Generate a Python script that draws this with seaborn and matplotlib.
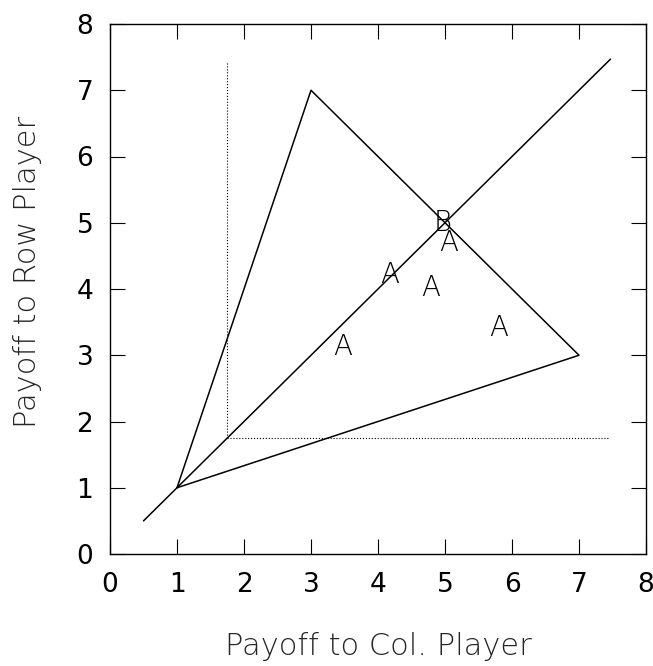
import pandas as pd
import matplotlib
matplotlib.use("Agg")
import matplotlib.pyplot as plt
import seaborn as sns

# feasible payoff triangle (col payoff, row payoff)
tri_x = [1, 3, 7, 1]
tri_y = [1, 7, 3, 1]

# 45 degree line
diag_x = [0.5, 7.47]
diag_y = [0.5, 7.47]

# minimax (dotted) lines
vert_x = [1.75, 1.75]
vert_y = [1.75, 7.43]
horiz_x = [1.75, 7.43]
horiz_y = [1.75, 1.75]

# outcomes labelled on the chart
a_x = [3.48, 4.18, 4.78, 5.06, 5.8]
a_y = [3.12, 4.21, 4.02, 4.69, 3.41]
b_x = [4.97]
b_y = [5.0]

sns.set_style("ticks")
plt.rcParams['font.family'] = ['DejaVu Sans']
plt.rcParams['text.color'] = 'black'
plt.rcParams['xtick.color'] = 'black'
plt.rcParams['ytick.color'] = 'black'

fig = plt.figure(figsize=(6.53, 6.66), dpi=100)
ax = fig.add_axes([110 / 653, (666 - 554) / 666, 536 / 653, 530 / 666])

line_kw = dict(sort=False, estimator=None, color='black', ax=ax)
sns.lineplot(x=tri_x, y=tri_y, lw=1.1, **line_kw)
sns.lineplot(x=diag_x, y=diag_y, lw=1.1, **line_kw)
sns.lineplot(x=vert_x, y=vert_y, lw=0.8, ls=':', **line_kw)
sns.lineplot(x=horiz_x, y=horiz_y, lw=0.8, ls=':', **line_kw)

for x, y in zip(a_x, a_y):
    ax.text(x, y, 'A', ha='center', va='center', fontsize=20, fontweight='light')
for x, y in zip(b_x, b_y):
    ax.text(x, y, 'B', ha='center', va='center', fontsize=20, fontweight='light')

ax.set_xlim(0, 8)
ax.set_ylim(0, 8)
ax.set_xticks(range(9))
ax.set_yticks(range(9))
ax.tick_params(direction='in', top=True, right=True, length=11, width=0.8,
               labelsize=19)
ax.tick_params(axis='x', pad=13)
ax.tick_params(axis='y', pad=12)
for s in ax.spines.values():
    s.set_linewidth(1.0)
    s.set_color('black')

ax.set_xlabel('Payoff to Col. Player', fontsize=22, fontweight='light')
ax.set_ylabel('Payoff to Row Player', fontsize=22, fontweight='light')
ax.xaxis.set_label_coords(0.5, -0.148)
ax.yaxis.set_label_coords(-0.127, 0.532)

fig.savefig('out.png', dpi=100, facecolor='white')
